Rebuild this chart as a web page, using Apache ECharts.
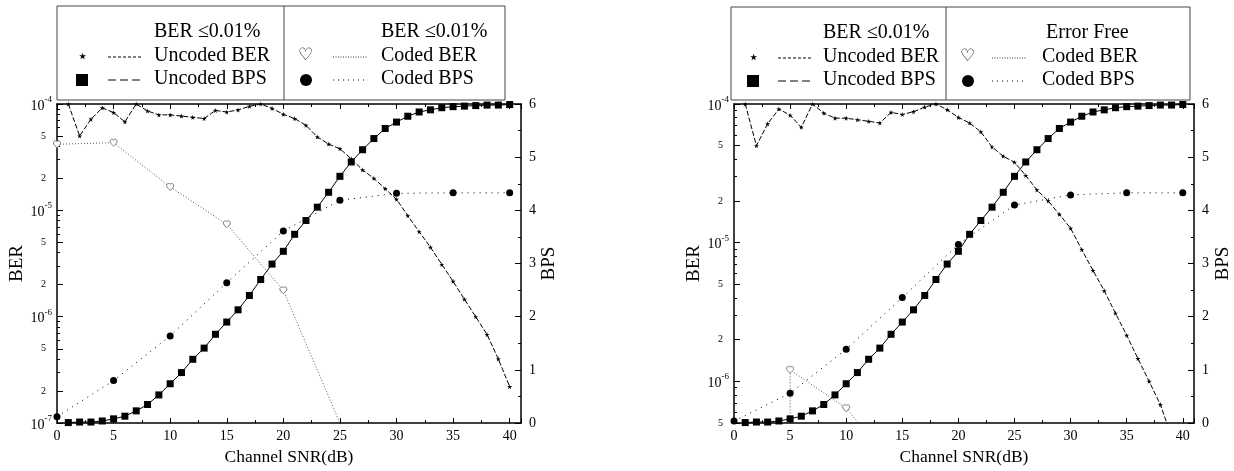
<!DOCTYPE html>
<html>
<head>
<meta charset="utf-8">
<script src="https://cdn.jsdelivr.net/npm/echarts@6/dist/echarts.min.js"></script>
<style>
html, body { margin: 0; padding: 0; background: #fff; }
#main { width: 1234px; height: 471px; }
</style>
</head>
<body>
<div id="main"></div>
<script>
// SNR points (dB)
var snrUncoded = [1, 2, 3, 4, 5, 6, 7, 8, 9, 10, 11, 12, 13, 14, 15, 16, 17, 18, 19, 20,
                  21, 22, 23, 24, 25, 26, 27, 28, 29, 30, 31, 32, 33, 34, 35, 36, 37, 38, 39, 40];
var snrCoded = [0, 5, 10, 15, 20, 25, 30, 35, 40];

// same uncoded curves in both panels
var uncodedBer = [1.0e-4, 5.0e-5, 7.2e-5, 9.2e-5, 8.3e-5, 6.8e-5, 1.0e-4, 8.6e-5, 7.9e-5, 7.9e-5,
                  7.7e-5, 7.5e-5, 7.3e-5, 8.7e-5, 8.4e-5, 8.8e-5, 9.5e-5, 1.0e-4, 9.1e-5, 8.0e-5,
                  7.3e-5, 6.3e-5, 4.9e-5, 4.2e-5, 3.8e-5, 3.05e-5, 2.4e-5, 2.0e-5, 1.6e-5, 1.27e-5,
                  8.9e-6, 6.3e-6, 4.5e-6, 3.1e-6, 2.15e-6, 1.46e-6, 1.0e-6, 6.8e-7, 4.0e-7, 2.2e-7];
var uncodedBps = [0.01, 0.02, 0.02, 0.04, 0.08, 0.13, 0.23, 0.35, 0.53, 0.74,
                  0.95, 1.20, 1.41, 1.67, 1.90, 2.13, 2.40, 2.70, 2.99, 3.23,
                  3.55, 3.81, 4.06, 4.34, 4.64, 4.91, 5.14, 5.35, 5.54, 5.66,
                  5.77, 5.85, 5.89, 5.93, 5.95, 5.96, 5.97, 5.98, 5.98, 5.99];

// left panel: BER <= 0.01%
var codedBerSnrLeft = [0, 5, 10, 15, 20, 25];
var codedBerLeft = [4.18e-5, 4.33e-5, 1.66e-5, 7.4e-6, 1.77e-6, 1.0e-7];
var codedBpsLeft = [0.12, 0.80, 1.64, 2.64, 3.61, 4.19, 4.32, 4.33, 4.33];

// right panel: error free
var codedBerSnrRight = [5, 5, 10, 15];
var codedBerRight = [1.0e-9, 1.21e-6, 6.4e-7, 2.1e-7];
var codedBpsRight = [0.04, 0.56, 1.39, 2.36, 3.36, 4.10, 4.29, 4.33, 4.33];

var berLabelsLeft = [1e-7, 2e-7, 5e-7, 1e-6, 2e-6, 5e-6, 1e-5, 2e-5, 5e-5, 1e-4];
var berLabelsRight = [5e-7, 1e-6, 2e-6, 5e-6, 1e-5, 2e-5, 5e-5, 1e-4];
var snrTicks = [0, 5, 10, 15, 20, 25, 30, 35, 40];

var SERIF = 'Liberation Serif';
var starPath = 'path://M50,0 L61,35 L98,35 L68,57 L79,91 L50,70 L21,91 L32,57 L2,35 L39,35 Z';
var heartPath = 'path://M12 21.35l-1.45-1.32C5.4 15.36 2 12.28 2 8.5 2 5.42 4.42 3 7.5 3c1.74 0 3.41.81 4.5 2.09C13.09 3.81 14.76 3 16.5 3 19.58 3 22 5.42 22 8.5c0 3.78-3.4 6.86-8.55 11.54L12 21.35z';

function zip(xs, ys) {
	var out = [];
	for (var i = 0; i < xs.length; i++) out.push([xs[i], ys[i]]);
	return out;
}

function minorLogTicks(lo, hi) {
	var out = [];
	for (var e = -8; e <= -3; e++) {
		for (var m = 1; m <= 9; m++) {
			var v = m * Math.pow(10, e);
			if (m == 1 || m == 2 || m == 5) continue;
			if (v >= lo * 0.999 && v <= hi * 1.001) out.push(v);
		}
	}
	return out;
}

function logLabel(v) {
	var e = Math.floor(Math.log10(v) + 1e-9);
	var m = Math.round(v / Math.pow(10, e));
	if (m == 1) return '{b|10}{s|' + e + '}';
	return '{m|' + m + '}';
}

var logRich = {
	b: { fontFamily: SERIF, fontSize: 14, color: '#000', lineHeight: 18, verticalAlign: 'bottom' },
	s: { fontFamily: SERIF, fontSize: 9, color: '#000', lineHeight: 18, verticalAlign: 'top' },
	m: { fontFamily: SERIF, fontSize: 10, color: '#000', padding: [0, 6, 0, 0] }
};

var axisLine = { show: true, lineStyle: { color: '#000', width: 1.5 } };

function xAxes(grid) {
	var base = {
		gridIndex: grid, type: 'value', min: 0, max: 41, interval: 5,
		axisLine: axisLine, splitLine: { show: false },
		axisTick: { inside: true, length: 5, lineStyle: { color: '#000' } },
		minorTick: { show: true, splitNumber: 2, length: 3, lineStyle: { color: '#000' } }
	};
	var bottom = Object.assign({}, base, {
		position: 'bottom',
		name: 'Channel SNR(dB)', nameLocation: 'middle', nameGap: 20,
		nameTextStyle: { fontFamily: SERIF, fontSize: 17.5, color: '#000' },
		axisLabel: { customValues: snrTicks, fontFamily: SERIF, fontSize: 14, color: '#000', margin: 6 }
	});
	var top = Object.assign({}, base, { position: 'top', axisLabel: { show: false } });
	return [bottom, top];
}

function yAxes(grid, lo, labels, berGap, bpsGap) {
	var ber = {
		gridIndex: grid, type: 'log', logBase: 10, min: lo, max: 1e-4, position: 'left',
		name: 'BER', nameLocation: 'middle', nameGap: berGap, nameRotate: 90,
		nameTextStyle: { fontFamily: SERIF, fontSize: 19, color: '#000' },
		axisLine: axisLine, splitLine: { show: false },
		axisTick: { inside: true, length: 6, customValues: labels, lineStyle: { color: '#000' } },
		axisLabel: { customValues: labels, formatter: logLabel, rich: logRich, margin: 5 }
	};
	var berMinor = {
		gridIndex: grid, type: 'log', logBase: 10, min: lo, max: 1e-4, position: 'left',
		axisLine: { show: false }, splitLine: { show: false }, axisLabel: { show: false },
		axisTick: { inside: true, length: 3, customValues: minorLogTicks(lo, 1e-4), lineStyle: { color: '#000' } }
	};
	var bps = {
		gridIndex: grid, type: 'value', min: 0, max: 6, interval: 1, position: 'right',
		name: 'BPS', nameLocation: 'middle', nameGap: bpsGap, nameRotate: 90,
		nameTextStyle: { fontFamily: SERIF, fontSize: 19, color: '#000' },
		axisLine: axisLine, splitLine: { show: false },
		axisTick: { inside: true, length: 6, lineStyle: { color: '#000' } },
		minorTick: { show: true, splitNumber: 2, length: 3, lineStyle: { color: '#000' } },
		axisLabel: { fontFamily: SERIF, fontSize: 14, color: '#000', margin: 8 }
	};
	return [ber, berMinor, bps];
}

function panelSeries(xi, yBer, yBps, berSnr, berVals, bpsVals, hideFirst, hideLast) {
	var berData = zip(berSnr, berVals).map(function (p, i) {
		if ((hideFirst && i == 0) || (hideLast && i == berSnr.length - 1)) {
			return { value: p, symbol: 'none' };
		}
		return p;
	});
	return [{
		name: 'Uncoded BER', type: 'line', xAxisIndex: xi, yAxisIndex: yBer,
		data: zip(snrUncoded, uncodedBer),
		symbol: starPath, symbolSize: 5, color: '#000',
		lineStyle: { color: '#000', width: 1, type: [5, 2] }
	}, {
		name: 'Uncoded BPS', type: 'line', xAxisIndex: xi, yAxisIndex: yBps,
		data: zip(snrUncoded, uncodedBps),
		symbol: 'rect', symbolSize: 7, color: '#000',
		lineStyle: { color: '#000', width: 1 }
	}, {
		name: 'Coded BER', type: 'line', xAxisIndex: xi, yAxisIndex: yBer,
		data: berData,
		symbol: heartPath, symbolSize: 7,
		itemStyle: { color: '#fff', borderColor: '#777', borderWidth: 1 },
		lineStyle: { color: '#555', width: 1, type: [1, 2] }
	}, {
		name: 'Coded BPS', type: 'line', xAxisIndex: xi, yAxisIndex: yBps,
		data: zip(snrCoded, bpsVals),
		symbol: 'circle', symbolSize: 7, color: '#000',
		lineStyle: { color: '#000', width: 1, type: [1, 5] }
	}];
}

// legend box drawn as graphics
function legendBox(b) {
	var els = [];
	var txt = function (x, y, s) {
		els.push({ type: 'text', left: x, top: y - 11, style: { text: s, font: '20px "Liberation Serif"', fill: '#000' } });
	};
	var seg = function (x1, x2, y, dash, color) {
		els.push({ type: 'line', shape: { x1: x1, y1: y, x2: x2, y2: y }, style: { stroke: color || '#000', lineWidth: 1, lineDash: dash } });
	};
	els.push({ type: 'rect', shape: { x: b.x, y: b.y, width: b.w, height: b.h }, style: { fill: '#fff', stroke: '#444', lineWidth: 1 } });
	els.push({ type: 'line', shape: { x1: b.div, y1: b.y, x2: b.div, y2: b.y + b.h }, style: { stroke: '#444', lineWidth: 1 } });
	var r1 = b.y + 27, r2 = b.y + 51, r3 = b.y + 74;
	// left half
	txt(b.t1, r1, 'BER \u22640.01%');
	els.push({ type: 'text', left: b.s1 - 5, top: r2 - 9, style: { text: '\u22c6', font: '18px "DejaVu Sans"', fill: '#000' } });
	seg(b.l1, b.l1 + 35, r2, [3, 2]);
	txt(b.t1, r2, 'Uncoded BER');
	els.push({ type: 'rect', shape: { x: b.s1 - 6, y: r3 - 6, width: 12, height: 12 }, style: { fill: '#000' } });
	seg(b.l1, b.l1 + 35, r3, [8, 4]);
	txt(b.t1, r3, 'Uncoded BPS');
	// right half
	txt(b.tt, r1, b.title2);
	els.push({ type: 'text', left: b.s2 - 8, top: r2 - 10, style: { text: '\u2661', font: '17px "DejaVu Sans"', fill: '#000' } });
	seg(b.l2, b.l2 + 35, r2, [1, 1.5], '#333');
	txt(b.t2, r2, 'Coded BER');
	els.push({ type: 'circle', shape: { cx: b.s2, cy: r3, r: 6 }, style: { fill: '#000' } });
	seg(b.l2, b.l2 + 35, r3, [1, 4]);
	txt(b.t2, r3, 'Coded BPS');
	return els;
}

var chart = echarts.init(document.getElementById('main'));
chart.setOption({
	animation: false,
	backgroundColor: '#fff',
	grid: [
		{ left: 57, top: 104, width: 464, height: 327 },
		{ left: 734, top: 104, width: 466, height: 326 }
	],
	xAxis: xAxes(0).concat(xAxes(1)),
	yAxis: yAxes(0, 1e-7, berLabelsLeft, 28, 14).concat(yAxes(1, 5e-7, berLabelsRight, 28, 20)),
	series: panelSeries(0, 0, 2, codedBerSnrLeft, codedBerLeft, codedBpsLeft, false, true)
		.concat(panelSeries(2, 3, 5, codedBerSnrRight, codedBerRight, codedBpsRight, true, true)),
	graphic: legendBox({ x: 57, y: 6, w: 448, h: 94, div: 284, s1: 82, l1: 108, t1: 154, s2: 306, l2: 333, t2: 381, tt: 381, title2: 'BER \u22640.01%' })
		.concat(legendBox({ x: 731, y: 7, w: 459, h: 93, div: 946, s1: 753, l1: 778, t1: 823, s2: 968, l2: 992, t2: 1042, tt: 1046, title2: 'Error Free' }))
});
</script>
</body>
</html>
